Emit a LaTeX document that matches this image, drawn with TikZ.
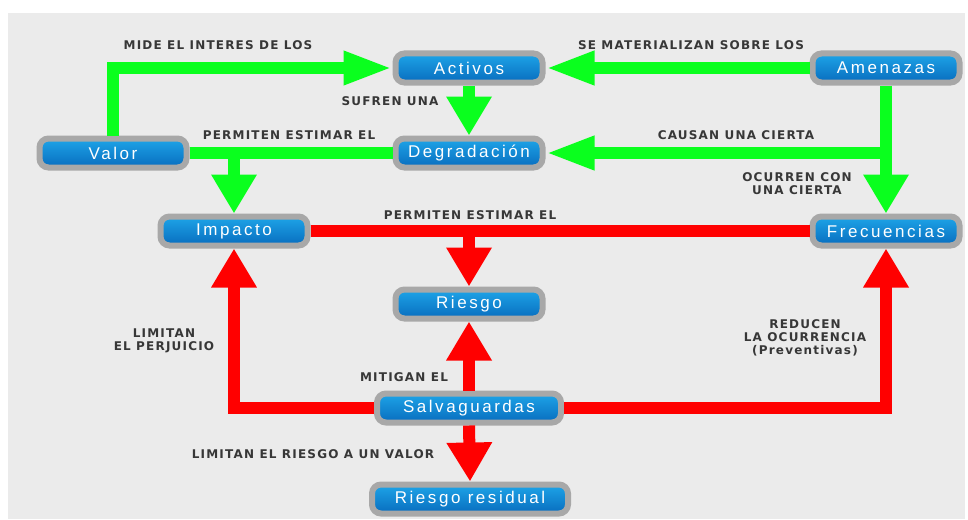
\documentclass[tikz,border=0pt]{standalone}
\usepackage{fontspec}
\usepackage{xcolor}
\usepackage{tikz}
\usetikzlibrary{arrows.meta}
\newfontfamily\cajafont[LetterSpace=15]{Liberation Sans}
\newfontfamily\etiqfont[LetterSpace=10]{DejaVu Sans}
\definecolor{verde}{RGB}{10,255,30}
\definecolor{rojo}{RGB}{255,0,0}
\definecolor{fondo}{RGB}{235,235,235}
\definecolor{borde}{RGB}{168,168,168}
\definecolor{azulclaro}{RGB}{30,165,232}
\definecolor{azuloscuro}{RGB}{8,108,190}
\definecolor{texto}{RGB}{55,55,55}
\tikzset{
  caja/.style={draw=borde,line width=6pt,rounded corners=9pt,top color=azulclaro,bottom color=azuloscuro,
    minimum height=29pt,minimum width=147pt,inner sep=2pt,text=white,font=\cajafont\fontsize{17}{19}\selectfont},
  etiq/.style={text=texto,align=center,font=\etiqfont\bfseries\fontsize{12}{13}\selectfont},
  flujov/.style={line width=12pt,draw=verde},
  flujor/.style={line width=12pt,draw=rojo},
  puntah/.style={-{Triangle[length=49pt,width=31pt]}},
  puntav/.style={-{Triangle[length=39pt,width=43pt]}}
}

\begin{document}
\begin{tikzpicture}[x=1pt,y=-1pt]
\useasboundingbox (0,0) rectangle (968,519);
\fill[fondo] (8,13) rectangle (965,519);

% cajas
\node[caja] (activos) at (469,68) {Activos};
\node[caja] (amenazas) at (886,68) {Amenazas};
\node[caja] (valor) at (113,153) {Valor};
\node[caja] (degradacion) at (469,153) {Degradación};
\node[caja] (impacto) at (234,231) {Impacto};
\node[caja] (frecuencias) at (886,231) {Frecuencias};
\node[caja] (riesgo) at (469,304) {Riesgo};
\node[caja,minimum width=184pt] (salvaguardas) at (469,408) {Salvaguardas};
\node[caja,minimum width=196pt] (residual) at (470,499) {Riesgo residual};

% flechas verdes
\draw[flujov,puntah] (valor.north) |- (activos.west);
\draw[flujov,puntah] (amenazas.west) -- (activos.east);
\draw[flujov,puntav] (activos.south) -- (degradacion.north);
\coordinate (cruce) at (amenazas.south |- degradacion.east);
\draw[flujov,puntah] (cruce) -- (degradacion.east);
\draw[flujov,puntav] (amenazas.south) -- (frecuencias.north);
\draw[flujov] (valor.east) -- (degradacion.west);
\coordinate (bajada) at (impacto.north |- valor.east);
\draw[flujov,puntav] (bajada) -- (impacto.north);

% flechas rojas
\draw[flujor] (impacto.east) -- (frecuencias.west);
\coordinate (bajadar) at (riesgo.north |- impacto.east);
\draw[flujor,puntav] (bajadar) -- (riesgo.north);
\draw[flujor,puntav] (salvaguardas.west) -| (impacto.south);
\draw[flujor,puntav] (salvaguardas.east) -| (frecuencias.south);
\draw[flujor,puntav] (salvaguardas.north) -- (riesgo.south);
\draw[flujor,puntav] (salvaguardas.south) -- (residual.north);

% etiquetas
\node[etiq] (lmide) at (218,45) {MIDE EL INTERES DE LOS};
\node[etiq] (lmaterializan) at (691,45) {SE MATERIALIZAN SOBRE LOS};
\node[etiq] (lsufren) at (390,101) {SUFREN UNA};
\node[etiq] (lpermiten) at (289,135) {PERMITEN ESTIMAR EL};
\node[etiq] (lcausan) at (736,135) {CAUSAN UNA CIERTA};
\node[etiq] (locurren) at (797,184) {OCURREN CON\\UNA CIERTA};
\node[etiq] (lpermiten2) at (470,215) {PERMITEN ESTIMAR EL};
\node[etiq] (llimitan) at (164,341) {LIMITAN\\EL PERJUICIO};
\node[etiq] (lreducen) at (805,338) {REDUCEN\\LA OCURRENCIA\\(Preventivas)};
\node[etiq] (lmitigan) at (404,377) {MITIGAN EL};
\node[etiq] (lvalor) at (313,454) {LIMITAN EL RIESGO A UN VALOR};
\end{tikzpicture}
\end{document}
